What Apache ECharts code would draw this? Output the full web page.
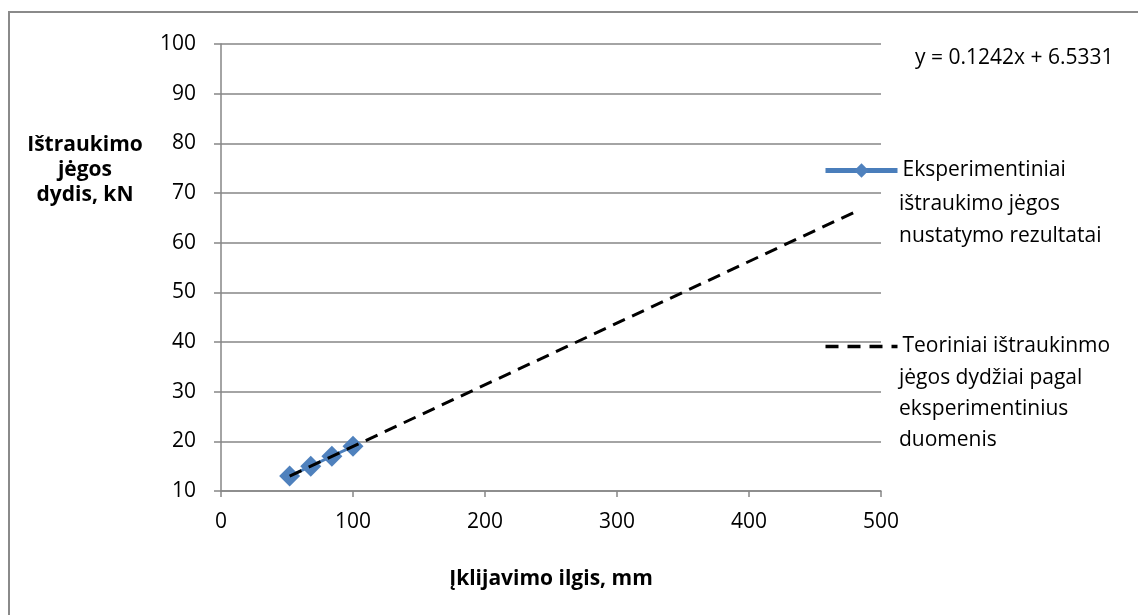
<!DOCTYPE html>
<html>
<head>
<meta charset="utf-8">
<script src="https://cdn.jsdelivr.net/npm/echarts@6/dist/echarts.min.js"></script>
<style>
  html, body { margin: 0; padding: 0; background: #fff; }
  #chart { width: 1138px; height: 615px; }
</style>
</head>
<body>
<div id="chart"></div>
<script>
// eksperimentiniai taskai
const expX = [52, 68, 84, 100];
const expY = [13.0, 15.0, 17.0, 19.0];
// tiesine tendencija (pradzia ir pabaiga, nuskaityta is paveikslo)
const trendX = [52, 482];
const trendY = [13.0, 66.4];
const xTicks = [0, 100, 200, 300, 400, 500];
const yTicks = [10, 20, 30, 40, 50, 60, 70, 80, 90, 100];

const FONT = 'Open Sans';
const FS = 21;
const gridColor = '#868686';

let chart = echarts.init(document.getElementById('chart'));
let options = {
  animation: false,
  backgroundColor: '#fff',
  textStyle: { fontFamily: FONT },
  grid: { left: 221, right: 257, top: 44, bottom: 124 },
  xAxis: {
    type: 'value',
    min: xTicks[0],
    max: xTicks[xTicks.length - 1],
    interval: 100,
    name: 'Įklijavimo ilgis, mm',
    nameLocation: 'middle',
    nameGap: 78,
    nameTextStyle: { fontFamily: FONT, fontWeight: 'bold', fontSize: FS, color: '#000' },
    axisLine: { show: true, lineStyle: { color: gridColor, width: 1.5 } },
    axisTick: { show: true, length: 6, lineStyle: { color: gridColor, width: 1.5 } },
    axisLabel: { color: '#000', fontSize: FS, margin: 21, fontFamily: FONT },
    splitLine: { show: false }
  },
  yAxis: {
    type: 'value',
    min: yTicks[0],
    max: yTicks[yTicks.length - 1],
    interval: 10,
    axisLine: { show: true, lineStyle: { color: gridColor, width: 1.5 } },
    axisTick: { show: true, length: 7, lineStyle: { color: gridColor, width: 1.5 } },
    axisLabel: { color: '#000', fontSize: FS, margin: 25, fontFamily: FONT },
    splitLine: { show: true, lineStyle: { color: gridColor, width: 1.5 } }
  },
  legend: {
    orient: 'vertical',
    left: 818,
    top: 155,
    itemWidth: 72,
    itemHeight: 18,
    itemGap: 155,
    textStyle: { fontFamily: FONT, fontSize: FS, color: '#000' },
    formatter: function (name) {
      return name === 'exp' ? 'Eksperimentiniai' : 'Teoriniai ištraukinmo';
    },
    data: [
      { name: 'exp', lineStyle: { width: 5, color: '#4A7EBB' } },
      { name: 'teor', lineStyle: { width: 3.5, color: '#000', type: [13, 9] }, itemStyle: { color: 'rgba(0,0,0,0)', borderWidth: 0 } }
    ]
  },
  title: [
    {
      text: 'Ištraukimo\njėgos\ndydis, kN',
      left: 80, top: 128, textAlign: 'center',
      textStyle: { fontFamily: FONT, fontWeight: 'bold', fontSize: FS, color: '#000', lineHeight: 25 }
    },
    {
      text: 'y = 0.1242x + 6.5331',
      left: 910, top: 43,
      textStyle: { fontFamily: FONT, fontWeight: 'normal', fontSize: FS, color: '#000' }
    }
  ],
  graphic: [
    {
      type: 'rect', silent: true,
      shape: { x: 9, y: 12, width: 1300, height: 800 },
      style: { fill: 'none', stroke: '#8a8a8a', lineWidth: 2 }
    },
    {
      type: 'text', left: 899, top: 188,
      style: { text: 'ištraukimo jėgos\nnustatymo rezultatai', font: FS + 'px "Open Sans"', fill: '#000', lineHeight: 32 }
    },
    {
      type: 'text', left: 899, top: 363,
      style: { text: 'jėgos dydžiai pagal\neksperimentinius\nduomenis', font: FS + 'px "Open Sans"', fill: '#000', lineHeight: 31 }
    }
  ],
  series: [
    {
      name: 'teor',
      type: 'line',
      data: trendX.map((x, i) => [x, trendY[i]]),
      symbol: 'none',
      z: 3,
      lineStyle: { color: '#000', width: 3, type: [13, 8] },
      itemStyle: { color: '#000' }
    },
    {
      name: 'exp',
      type: 'line',
      data: expX.map((x, i) => [x, expY[i]]),
      symbol: 'diamond',
      symbolSize: 21,
      z: 2,
      lineStyle: { color: '#4A7EBB', width: 3 },
      itemStyle: { color: '#4F81BD' }
    }
  ]
};
chart.setOption(options);
</script>
</body>
</html>
